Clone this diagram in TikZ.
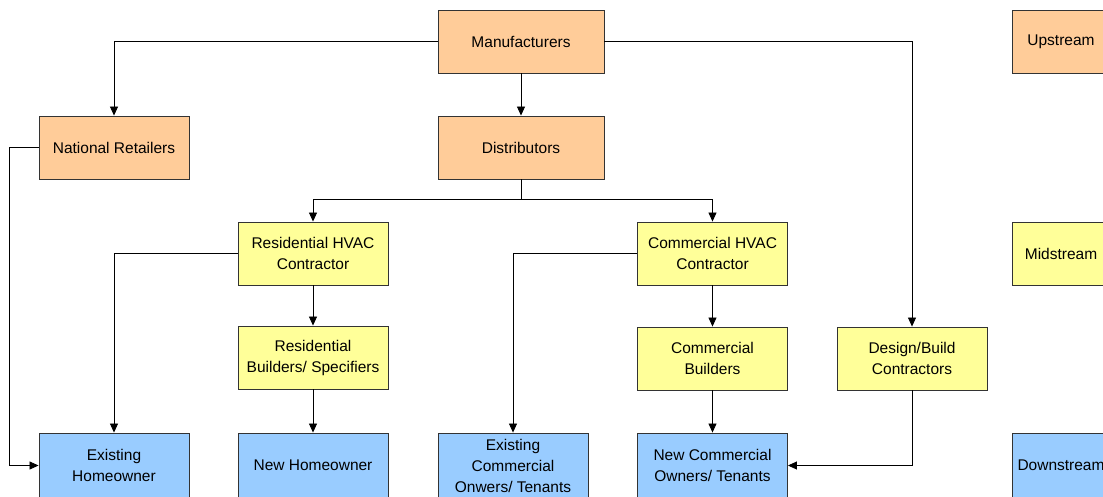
\documentclass[tikz,border=0pt]{standalone}
\usepackage{fontspec}
\setmainfont{Liberation Sans}
\usetikzlibrary{arrows.meta}
\definecolor{upcol}{HTML}{FFCC99}
\definecolor{midcol}{HTML}{FFFF99}
\definecolor{downcol}{HTML}{99CCFF}
\begin{document}
\begin{tikzpicture}[x=1pt, y=-1pt,
    box/.style={draw=black!80, line width=0.9pt, minimum width=150pt, minimum height=63pt,
      align=center, inner sep=2pt, font=\fontsize{15.5}{21}\selectfont},
    upbox/.style={box, fill=upcol},
    midbox/.style={box, fill=midcol},
    downbox/.style={box, fill=downcol, minimum height=65pt},
    arr/.style={-{Triangle[length=9pt, width=8pt]}, line width=0.8pt}]
      \useasboundingbox (0,0) rectangle (1103,496);
      \clip (0,0) rectangle (1103,496);

      % Upstream
      \node[upbox, minimum width=166pt] (man) at (521,41.5) {Manufacturers};
      \node[upbox] (nr) at (114,147.5) {National Retailers};
      \node[upbox, minimum width=166pt] (dist) at (521,147.5) {Distributors};

      % Midstream
      \node[midbox] (rhvac) at (313,253.5) {Residential HVAC\\Contractor};
      \node[midbox] (chvac) at (712.5,253.5) {Commercial HVAC\\Contractor};
      \node[midbox] (rbs) at (313,357.5) {Residential\\Builders/ Specifiers};
      \node[midbox] (cb) at (712.5,358.5) {Commercial\\Builders};
      \node[midbox] (db) at (912,358.5) {Design/Build\\Contractors};

      % Downstream
      \node[downbox] (eho) at (114,465.5) {Existing\\Homeowner};
      \node[downbox] (nho) at (313,465.5) {New Homeowner};
      \node[downbox] (eco) at (513,465.5) {Existing\\Commercial\\Onwers/ Tenants};
      \node[downbox] (nco) at (712.5,465.5) {New Commercial\\Owners/ Tenants};

      % Legende
      \node[upbox, minimum width=98pt] (lup) at (1061,41.5) {Upstream};
      \node[midbox, minimum width=98pt] (lmid) at (1061,253.5) {Midstream};
      \node[downbox, minimum width=98pt] (ldown) at (1061,465.5) {Downstream};

      % Verbindungen
      \coordinate (split) at (521,199);
      \draw[arr] (man.west) -| (nr.north);
      \draw[arr] (man.south) -- (dist.north);
      \draw[arr] (man.east) -| (db.north);
      \draw[line width=0.8pt] (dist.south) -- (split);
      \draw[arr] (split) -| (rhvac.north);
      \draw[arr] (split) -| (chvac.north);
      \draw[arr] (nr.west) -- ++(-29,0) |- (eho.west);
      \draw[arr] (rhvac.west) -| (eho.north);
      \draw[arr] (rhvac.south) -- (rbs.north);
      \draw[arr] (rbs.south) -- (nho.north);
      \draw[arr] (chvac.west) -| (eco.north);
      \draw[arr] (chvac.south) -- (cb.north);
      \draw[arr] (cb.south) -- (nco.north);
      \draw[arr] (db.south) |- (nco.east);
    \end{tikzpicture}
\end{document}
